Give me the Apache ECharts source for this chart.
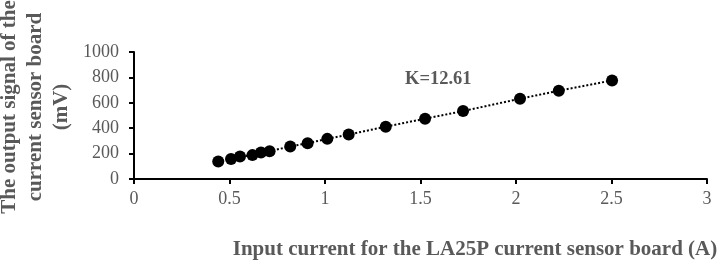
<!DOCTYPE html>
<html>
<head>
<meta charset="utf-8">
<script src="https://cdn.jsdelivr.net/npm/echarts@6/dist/echarts.min.js"></script>
<style>
  html, body { margin: 0; padding: 0; background: #fff; }
  #chart { width: 723px; height: 265px; }
</style>
</head>
<body>
<div id="chart"></div>
<script>
// input current (A) and sensor output (mV)
const currentA = [0.441, 0.508, 0.555, 0.62, 0.665, 0.71, 0.818, 0.909, 1.012, 1.124, 1.318, 1.524, 1.723, 2.021, 2.224, 2.503]
const outputMv = [138, 157, 177, 188, 209, 219, 256, 282, 316, 350, 412, 475, 535, 632, 695, 776]
const slopeLabel = 'K=12.61'

const gray = '#595959'
const font = '"Liberation Serif", "Times New Roman", serif'

const chart = echarts.init(document.getElementById('chart'))
chart.setOption({
    animation: false,
    grid: { left: 134, right: 16, top: 52, bottom: 86 },
    xAxis: {
        type: 'value', min: 0, max: 3, interval: 0.5,
        axisLine: { show: true, lineStyle: { color: '#000', width: 2 } },
        axisTick: { show: true, length: 5, lineStyle: { color: '#000', width: 2 } },
        splitLine: { show: false },
        axisLabel: { color: gray, fontFamily: font, fontSize: 18, margin: 11, formatter: v => String(v) }
    },
    yAxis: {
        type: 'value', min: 0, max: 1000, interval: 200,
        axisLine: { show: true, lineStyle: { color: '#000', width: 2 } },
        axisTick: { show: true, length: 5, lineStyle: { color: '#000', width: 2 } },
        splitLine: { show: false },
        axisLabel: { color: gray, fontFamily: font, fontSize: 18, margin: 15, formatter: v => String(v) }
    },
    series: [{
        type: 'line',
        data: currentA.map((x, i) => [x, outputMv[i]]),
        symbol: 'circle',
        symbolSize: 12,
        itemStyle: { color: '#000' },
        lineStyle: { color: '#000', width: 2, type: 'dotted' }
    }],
    graphic: [
        {
            type: 'text', left: 405, top: 70,
            style: { text: slopeLabel, fill: gray, font: 'bold 18.5px ' + font }
        },
        {
            type: 'text', x: 36, y: 107, rotation: Math.PI / 2,
            style: {
                text: 'The output signal of the\ncurrent sensor board\n(mV)',
                fill: gray, font: 'bold 21px ' + font,
                align: 'center', verticalAlign: 'middle', lineHeight: 26
            }
        },
        {
            type: 'text', x: 475, y: 250,
            style: {
                text: 'Input current for the LA25P current sensor board (A)',
                fill: gray, font: 'bold 21px ' + font,
                align: 'center', verticalAlign: 'middle'
            }
        }
    ]
})
</script>
</body>
</html>
